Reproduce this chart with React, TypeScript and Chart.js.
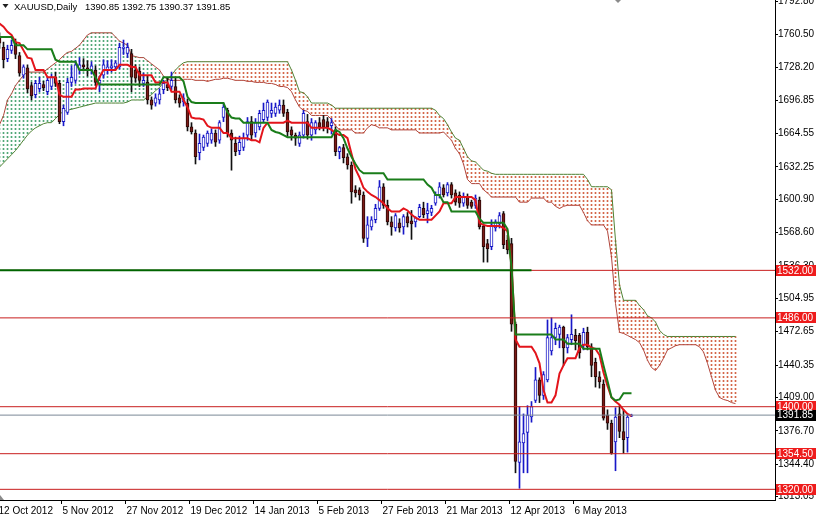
import React, { useEffect, useRef } from 'react';
import { Chart, registerables } from 'chart.js';

Chart.register(...registerables);

// ---- data (daily XAUUSD, 12 Oct 2012 .. 24 May 2013) ----
const OPEN = [1758,1748,1737,1745,1752,1740,1721,1728,1711,1702,1708,1712,1705,1710,1719,1713,1676,1685,1714,1716,1726,1731,1728,1725,1726,1713,1721,1726,1728,1729,1729,1747,1742,1742,1726,1725,1713,1714,1697,1694,1697,1707,1712,1710,1710,1699,1695,1694,1671,1665,1646,1651,1655,1658,1665,1658,1680,1687,1665,1655,1648,1651,1663,1676,1665,1671,1678,1680,1684,1684,1687,1692,1685,1668,1663,1655,1663,1676,1663,1668,1675,1678,1676,1672,1668,1647,1651,1642,1634,1610,1610,1605,1563,1574,1581,1592,1613,1595,1579,1573,1578,1574,1584,1580,1579,1584,1592,1587,1588,1597,1605,1612,1607,1615,1607,1605,1597,1603,1598,1595,1600,1575,1558,1555,1573,1577,1587,1561,1558,1480,1346,1365,1375,1390,1406,1426,1411,1426,1454,1467,1470,1477,1457,1465,1469,1469,1460,1472,1458,1443,1429,1422,1392,1384,1366,1393,1376,1370,1390.85];
const HIGH = [1762,1753,1750,1755,1756,1743,1731,1731,1714,1716,1719,1715,1719,1722,1724,1716,1692,1718,1730,1735,1738,1737,1735,1734,1730,1720,1736,1735,1736,1735,1752,1755,1752,1746,1731,1729,1723,1720,1700,1703,1708,1716,1719,1724,1719,1702,1703,1698,1675,1668,1664,1663,1667,1669,1668,1677,1694,1689,1668,1661,1662,1665,1680,1681,1679,1687,1694,1697,1694,1694,1697,1697,1688,1671,1665,1666,1687,1683,1679,1677,1680,1682,1680,1679,1671,1652,1654,1645,1637,1614,1612,1608,1584,1584,1596,1619,1616,1600,1584,1587,1582,1586,1588,1590,1584,1596,1598,1597,1595,1608,1617,1615,1617,1617,1610,1608,1607,1606,1600,1605,1603,1577,1562,1581,1581,1588,1589,1566,1563,1482,1400,1393,1401,1405,1438,1428,1434,1484,1486,1481,1479,1478,1470,1489,1475,1471,1476,1477,1461,1447,1434,1426,1397,1387,1399,1401,1397,1393,1392.75];
const LOW = [1747,1728,1734,1742,1737,1720,1718,1704,1697,1699,1705,1706,1702,1707,1710,1674,1672,1683,1710,1713,1722,1725,1720,1722,1711,1705,1718,1722,1724,1726,1727,1741,1738,1705,1714,1710,1710,1693,1688,1691,1693,1703,1706,1707,1694,1690,1691,1667,1664,1635,1639,1648,1652,1655,1652,1655,1676,1661,1629,1643,1644,1648,1658,1658,1661,1668,1675,1677,1680,1681,1684,1681,1662,1658,1653,1652,1660,1659,1658,1664,1668,1667,1665,1664,1643,1640,1636,1630,1597,1603,1600,1559,1555,1571,1578,1590,1592,1576,1566,1570,1569,1567,1574,1562,1574,1583,1583,1578,1585,1595,1602,1603,1604,1602,1595,1593,1594,1592,1592,1592,1572,1540,1540,1552,1570,1573,1553,1548,1473,1336,1321,1336,1336,1385,1404,1404,1407,1424,1450,1460,1457,1440,1452,1460,1455,1447,1455,1455,1429,1419,1418,1387,1378,1354,1338,1370,1355,1356,1390.37];
const CLOSE = [1752,1736,1746,1750,1741,1723,1729,1708,1701,1713,1713,1709,1716,1719,1713,1676,1689,1714,1719,1731,1731,1729,1725,1730,1714,1716,1731,1729,1730,1733,1748,1748,1748,1719,1718,1716,1716,1697,1692,1699,1703,1713,1709,1716,1697,1694,1699,1671,1666,1642,1655,1661,1665,1665,1656,1675,1690,1665,1658,1647,1656,1660,1676,1663,1675,1684,1687,1695,1687,1690,1692,1684,1666,1663,1660,1663,1684,1663,1675,1675,1671,1671,1671,1675,1647,1651,1641,1634,1608,1607,1605,1563,1576,1581,1592,1613,1595,1579,1574,1585,1573,1584,1578,1577,1583,1593,1586,1590,1592,1605,1613,1605,1615,1605,1598,1597,1603,1595,1594,1602,1574,1555,1553,1576,1579,1585,1557,1552,1480,1347,1366,1374,1392,1400,1426,1411,1431,1467,1467,1476,1477,1457,1467,1470,1464,1452,1472,1458,1440,1429,1424,1389,1384,1355,1390,1376,1368,1390,1391.85];

// Ichimoku lines
const TENKAN = [1771,1768,1763,1760,1753,1752,1745,1738,1737,1726,1726,1726,1719,1719,1719,1702,1700,1700,1700,1707,1707,1708,1708,1708,1708,1719,1726,1726,1726,1726,1731,1731,1731,1729,1729,1721,1721,1721,1721,1714,1714,1714,1714,1705,1705,1705,1697,1690,1680,1679,1679,1678,1672,1670,1670,1670,1665,1665,1660,1660,1660,1660,1660,1658,1658,1656,1670,1675,1675,1675,1675,1675,1677,1675,1675,1675,1675,1675,1670,1670,1670,1670,1670,1668,1665,1663,1663,1660,1645,1630,1622,1612,1608,1605,1603,1600,1597,1592,1589,1589,1589,1592,1590,1586,1583,1581,1581,1581,1581,1585,1589,1597,1597,1597,1603,1603,1603,1603,1603,1600,1578,1576,1575,1575,1575,1575,1573,1570,1538,1465,1458,1458,1458,1458,1452,1442,1416,1404,1404,1411,1432,1440,1447,1447,1447,1457,1460,1460,1457,1456,1450,1433,1420,1409,1405,1402,1397,1393,1391];
const KIJUN = [1758,1758,1758,1758,1750,1750,1750,1746,1746,1746,1746,1746,1746,1746,1736,1734,1734,1734,1734,1734,1726,1726,1726,1726,1719,1712,1712,1712,1712,1712,1712,1712,1712,1712,1712,1712,1712,1712,1712,1712,1712,1719,1719,1719,1719,1719,1715,1700,1695,1694,1694,1694,1694,1694,1694,1694,1694,1685,1680,1679,1679,1675,1675,1675,1675,1675,1675,1675,1668,1666,1665,1663,1661,1661,1661,1661,1661,1661,1661,1661,1661,1661,1661,1661,1668,1666,1660,1650,1642,1635,1629,1626,1626,1626,1626,1626,1626,1620,1620,1620,1620,1620,1620,1620,1620,1620,1620,1615,1612,1605,1605,1598,1598,1589,1589,1589,1589,1589,1589,1589,1582,1578,1578,1578,1578,1578,1578,1572,1535,1470,1470,1470,1470,1470,1470,1470,1470,1470,1470,1465,1465,1465,1461,1461,1461,1461,1456,1456,1456,1456,1456,1440,1425,1409,1406,1407,1413,1413,1413];
// Senkou spans, already shifted 26 bars forward (index = bar position on chart)
const SPAN_A = [1673,1682,1697,1703,1711,1716,1721,1724,1724,1724,1724,1724,1727,1730,1733,1736,1740,1743,1744,1747,1750,1755,1760,1762,1762,1762,1762,1762,1762,1758,1754,1752,1750,1740,1739,1738,1738,1735,1732,1729,1726,1720,1717,1716,1716,1716,1717,1717,1717,1716,1716,1716,1715,1716,1717,1717,1718,1718,1717,1716,1716,1716,1715,1715,1714,1714,1714,1713,1713,1712,1710,1710,1709,1705,1697,1690,1687,1686,1682,1682,1682,1682,1682,1678,1672,1668,1668,1668,1668,1665,1665,1665,1670,1673,1672,1670,1670,1670,1668,1668,1668,1668,1668,1668,1668,1665,1665,1665,1665,1665,1665,1666,1662,1658,1650,1645,1635,1620,1616,1616,1616,1610,1607,1603,1603,1603,1603,1603,1603,1603,1598,1598,1598,1602,1602,1602,1602,1598,1598,1594,1592,1594,1595,1595,1595,1595,1588,1580,1576,1576,1576,1576,1570,1545,1500,1472,1471,1469,1467,1465,1462,1455,1445,1438,1435,1440,1447,1455,1457,1459,1460,1460,1460,1460,1460,1458,1453,1442,1429,1416,1409,1407,1406,1404,1403];
const SPAN_B = [1632,1636,1640,1644,1648,1653,1658,1663,1667,1670,1672,1674,1675,1675,1679,1683,1686,1687,1688,1689,1690,1691,1692,1693,1694,1694,1694,1694,1694,1694,1694,1694,1695,1697,1697,1697,1697,1700,1702,1706,1709,1714,1717,1721,1726,1730,1733,1734,1734,1734,1734,1734,1734,1734,1734,1734,1734,1734,1734,1734,1734,1734,1734,1734,1734,1734,1734,1734,1734,1734,1734,1734,1734,1726,1716,1705,1704,1700,1694,1694,1694,1694,1694,1692,1689,1689,1689,1689,1689,1689,1689,1689,1689,1689,1689,1689,1689,1689,1689,1689,1689,1689,1689,1689,1689,1689,1689,1689,1689,1687,1682,1679,1673,1666,1660,1658,1650,1642,1638,1637,1633,1629,1628,1626,1625,1625,1625,1625,1625,1625,1625,1625,1625,1625,1625,1625,1625,1625,1625,1625,1625,1625,1625,1625,1625,1625,1625,1620,1613,1613,1613,1613,1613,1610,1561,1518,1503,1503,1503,1503,1498,1494,1488,1486,1482,1474,1470,1468,1468,1468,1468,1468,1468,1468,1468,1468,1468,1468,1468,1468,1468,1468,1468,1468,1468];

const DATE_TICK_INDEX = [0, 16, 32, 48, 64, 80, 96, 112, 128, 144];
const DATE_TICK_LABELS = ['12 Oct 2012', '5 Nov 2012', '27 Nov 2012', '19 Dec 2012', '14 Jan 2013', '5 Feb 2013', '27 Feb 2013', '21 Mar 2013', '12 Apr 2013', '6 May 2013'];
const PRICE_TICKS = [1792.80, 1760.50, 1728.20, 1696.85, 1664.55, 1632.25, 1600.90, 1568.60, 1536.30, 1504.95, 1472.65, 1440.35, 1409.00, 1376.70, 1344.40, 1313.05];

const RED_LEVELS = [1532.0, 1486.0, 1400.0, 1354.5, 1320.0];
const BID_LEVEL = 1391.85;
const GREEN_LEVEL = 1532.0;
const GREEN_LEVEL_END_BAR = 133;
const SYMBOL_TITLE = 'XAUUSD,Daily';
const LAST_BAR_OHLC = '1390.85 1392.75 1390.37 1391.85';

// ---- layout / style constants ----
const X_MIN = 0.125;
const X_MAX = 193.875;
const Y_MIN = 1309.67;
const Y_MAX = 1793.77;
const FONT = 'Liberation Sans, Arial, sans-serif';
const BULL = '#1818c8';
const BEAR_FILL = '#7c1a16';
const BEAR_EDGE = '#2a0806';
const RED_LINE = '#c81e1e';
const LABEL_RED = '#ee1c1c';

export default function App() {
  const canvasRef = useRef<HTMLCanvasElement | null>(null);

  useEffect(() => {
    const canvas = canvasRef.current;
    if (!canvas) return;
    const ctx = canvas.getContext('2d');
    if (!ctx) return;

    const makeDots = (color: string) => {
      const c = document.createElement('canvas');
      c.width = 1;
      c.height = 4;
      const g = c.getContext('2d')!;
      g.fillStyle = color;
      g.fillRect(0, 0, 1, 2);
      return ctx.createPattern(c, 'repeat') as CanvasPattern;
    };
    const greenDots = makeDots('#52a878');
    const redDots = makeDots('#d4674a');

    const bars = OPEN.map((_, i) => i);
    const isBull = bars.map((i) => CLOSE[i] >= OPEN[i]);
    const cloudIdx = SPAN_A.map((_, j) => j);
    const farLeft = X_MIN - 3;
    const farRight = X_MAX + 3;

    const hLine = (level: number, color: string, width: number, order: number, endX = farRight) => ({
      type: 'line' as const,
      data: [{ x: farLeft, y: level }, { x: endX, y: level }],
      borderColor: color,
      borderWidth: width,
      pointRadius: 0,
      tension: 0,
      order,
    });

    const overlay = {
      id: 'mtOverlay',
      afterDraw(chart: any) {
        const c = chart.ctx;
        const ys = chart.scales.y;
        c.save();
        c.font = '10px ' + FONT;
        c.textBaseline = 'middle';
        c.textAlign = 'left';
        const boxL = chart.chartArea.right + 1;
        const drawBox = (level: number, bg: string) => {
          const yy = ys.getPixelForValue(level);
          c.fillStyle = bg;
          c.fillRect(boxL, Math.round(yy - 5.5), chart.width - boxL, 11);
          c.fillStyle = '#ffffff';
          c.fillText(level.toFixed(2), boxL + 1, yy + 0.5);
        };
        RED_LEVELS.forEach((l) => drawBox(l, LABEL_RED));
        drawBox(BID_LEVEL, '#000000');

        // title
        c.fillStyle = '#202020';
        c.beginPath();
        c.moveTo(2.5, 4);
        c.lineTo(8.5, 4);
        c.lineTo(5.5, 8);
        c.closePath();
        c.fill();
        c.fillStyle = '#000000';
        c.font = '9.5px ' + FONT;
        c.textBaseline = 'alphabetic';
        c.fillText(SYMBOL_TITLE, 14, 10);
        c.fillText(LAST_BAR_OHLC, 85, 10);

        // small chart-shift markers
        c.fillStyle = '#8a8a8a';
        c.beginPath();
        c.moveTo(615, 0);
        c.lineTo(621, 0);
        c.lineTo(618, 3);
        c.closePath();
        c.fill();
        c.beginPath();
        c.moveTo(0, 495);
        c.lineTo(0, 500);
        c.lineTo(4, 500);
        c.closePath();
        c.fill();
        c.restore();
      },
    };

    const chart = new Chart(ctx, {
      type: 'bar',
      data: {
        datasets: [
          {
            type: 'bar',
            data: cloudIdx.map((j) => ({ x: j, y: [SPAN_A[j], SPAN_B[j]] })),
            backgroundColor: cloudIdx.map((j) => (SPAN_A[j] >= SPAN_B[j] ? greenDots : redDots)),
            borderWidth: 0,
            barThickness: 1,
            grouped: false,
            order: 20,
          } as any,
          {
            type: 'line',
            data: cloudIdx.map((j) => ({ x: j, y: SPAN_A[j] })),
            borderColor: '#b0443a',
            borderWidth: 1,
            pointRadius: 0,
            tension: 0,
            order: 18,
          },
          {
            type: 'line',
            data: cloudIdx.map((j) => ({ x: j, y: SPAN_B[j] })),
            borderColor: '#4f8234',
            borderWidth: 1,
            pointRadius: 0,
            tension: 0,
            order: 18,
          },
          {
            type: 'bar',
            data: bars.map((i) => ({ x: i, y: [LOW[i], HIGH[i]] })),
            backgroundColor: bars.map((i) => (isBull[i] ? BULL : '#101010')),
            borderWidth: 0,
            barThickness: 1,
            grouped: false,
            order: 12,
          } as any,
          {
            type: 'bar',
            data: bars.map((i) => ({ x: i, y: [OPEN[i], CLOSE[i]] })),
            backgroundColor: bars.map((i) => (isBull[i] ? '#ffffff' : BEAR_FILL)),
            borderColor: bars.map((i) => (isBull[i] ? BULL : BEAR_EDGE)),
            borderWidth: 1,
            borderSkipped: false,
            barThickness: 3,
            minBarLength: 1,
            grouped: false,
            order: 11,
          } as any,
          {
            type: 'line',
            data: bars.map((i) => ({ x: i, y: TENKAN[i] })),
            borderColor: '#e3141b',
            borderWidth: 2,
            pointRadius: 0,
            tension: 0,
            order: 6,
          },
          {
            type: 'line',
            data: bars.map((i) => ({ x: i, y: KIJUN[i] })),
            borderColor: '#1a7d1a',
            borderWidth: 2,
            pointRadius: 0,
            tension: 0,
            order: 5,
          },
          ...RED_LEVELS.map((l) => hLine(l, RED_LINE, 1, 3)),
          hLine(BID_LEVEL, '#7a8896', 1, 3),
          hLine(GREEN_LEVEL, '#006400', 2, 1, GREEN_LEVEL_END_BAR),
        ] as any,
      },
      options: {
        animation: false,
        responsive: false,
        maintainAspectRatio: false,
        devicePixelRatio: 1,
        events: [],
        layout: { padding: 0 },
        plugins: { legend: { display: false }, tooltip: { enabled: false } },
        scales: {
          x: {
            type: 'linear',
            position: 'bottom',
            min: X_MIN,
            max: X_MAX,
            offset: false,
            grid: { display: true, offset: false, drawOnChartArea: false, drawTicks: true, tickLength: 4, color: '#000000' },
            border: { display: true, color: '#000000', width: 1 },
            ticks: {
              autoSkip: false,
              maxRotation: 0,
              minRotation: 0,
              align: 'start',
              padding: 1,
              labelOffset: 1,
              color: '#000000',
              font: { family: FONT, size: 10 },
              callback: (_v: any, idx: number) => DATE_TICK_LABELS[idx] ?? '',
            },
            afterBuildTicks: (s: any) => {
              s.ticks = DATE_TICK_INDEX.map((i) => ({ value: i - 0.5 }));
            },
            afterFit: (s: any) => {
              s.height = 16;
              s.paddingLeft = 0;
              s.paddingRight = 0;
            },
          } as any,
          y: {
            type: 'linear',
            position: 'right',
            min: Y_MIN,
            max: Y_MAX,
            beginAtZero: false,
            grid: { display: true, drawOnChartArea: false, drawTicks: true, tickLength: 3, color: '#000000' },
            border: { display: true, color: '#000000', width: 1 },
            ticks: {
              autoSkip: false,
              padding: 0,
              color: '#000000',
              font: { family: FONT, size: 10 },
              callback: (v: any) => Number(v).toFixed(2),
            },
            afterBuildTicks: (s: any) => {
              s.ticks = PRICE_TICKS.map((v) => ({ value: v }));
            },
            afterFit: (s: any) => {
              s.width = 41;
              s.paddingTop = 0;
              s.paddingBottom = 0;
            },
          } as any,
        },
      },
      plugins: [overlay],
    });

    return () => chart.destroy();
  }, []);

  return (
    <div style={{ position: 'fixed', left: 0, top: 0, width: 816, height: 516, background: '#ffffff' }}>
      <canvas ref={canvasRef} width={816} height={516} style={{ display: 'block' }} />
    </div>
  );
}
